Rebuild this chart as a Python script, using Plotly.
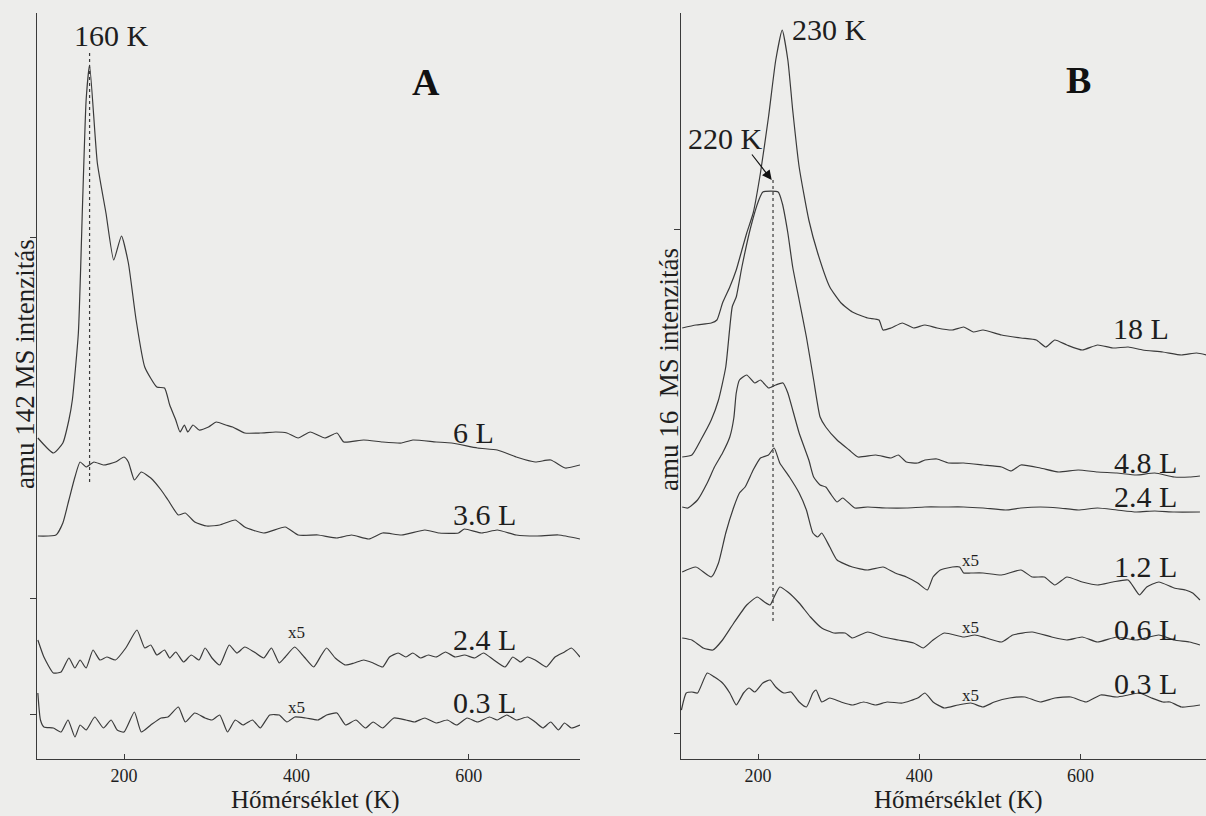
import plotly.graph_objects as go

# ---------------- Panel A (amu 142) ----------------
a6_T = [100, 118, 129, 136, 140, 147, 152, 156, 160, 169, 179, 188, 197, 205, 214, 224, 238, 247, 253, 260,
        265, 270, 274, 280, 287, 298, 307, 318, 326, 340, 358, 376, 389, 402, 416, 433, 447, 455, 478, 500,
        522, 535, 562, 580, 610, 633, 655, 677, 695, 712, 729]
a6_I = [321, 306, 316, 339, 359, 426, 559, 659, 694, 596, 546, 499, 523, 496, 439, 392, 372, 371, 354, 339,
        327, 334, 327, 334, 329, 332, 337, 334, 332, 326, 326, 327, 326, 321, 327, 321, 326, 317, 319, 317,
        316, 319, 317, 316, 311, 309, 302, 297, 299, 291, 294]

a36_T = [100, 121, 129, 136, 143, 149, 156, 165, 176, 190, 200, 205, 212, 220, 231, 243, 251, 263, 271, 282,
         296, 311, 329, 340, 362, 387, 402, 425, 447, 464, 484, 500, 522, 549, 566, 588, 595, 615, 633, 655,
         678, 704, 729]
a36_I = [223, 224, 236, 259, 282, 297, 292, 297, 294, 297, 302, 297, 279, 287, 281, 269, 259, 244, 246, 237,
         233, 234, 239, 232, 226, 232, 224, 224, 221, 224, 220, 226, 224, 229, 226, 226, 230, 226, 229, 224,
         223, 224, 220]

a24_T = [100, 107, 118, 127, 136, 143, 149, 156, 164, 172, 180, 190, 202, 215, 224, 231, 238, 247, 253, 260,
         269, 278, 287, 294, 302, 311, 322, 331, 340, 351, 362, 371, 380, 387, 398, 409, 420, 429, 435, 445,
         457, 467, 478, 489, 500, 508, 518, 527, 535, 544, 553, 562, 573, 584, 595, 607, 617, 629, 642, 651,
         660, 668, 677, 690, 700, 711, 719, 729]
a24_I = [119, 102, 86, 87, 101, 91, 99, 91, 109, 99, 102, 99, 111, 129, 111, 114, 104, 109, 101, 107,
         97, 104, 99, 111, 101, 94, 114, 106, 112, 107, 101, 111, 96, 102, 112, 102, 92, 104, 111, 101,
         94, 96, 99, 96, 92, 102, 106, 102, 106, 101, 104, 102, 107, 102, 104, 101, 106, 99, 92, 102,
         97, 102, 99, 92, 102, 107, 111, 102]

a03_T = [100, 103, 107, 118, 127, 135, 143, 149, 156, 166, 176, 185, 192, 200, 212, 220, 231, 243, 251, 263,
         271, 282, 294, 302, 311, 320, 329, 338, 349, 358, 369, 380, 389, 398, 411, 425, 435, 447, 457, 469,
         480, 489, 500, 513, 527, 537, 549, 562, 575, 586, 598, 610, 624, 633, 644, 655, 668, 677, 686, 695,
         704, 711, 719, 729]
a03_I = [66, 39, 32, 31, 27, 39, 22, 34, 29, 42, 31, 39, 29, 27, 47, 27, 34, 41, 42, 52,
         37, 46, 41, 39, 44, 27, 39, 34, 39, 31, 44, 44, 37, 42, 41, 39, 44, 46, 34, 39,
         31, 37, 31, 41, 39, 37, 41, 36, 39, 34, 41, 37, 42, 39, 44, 39, 42, 37, 31, 37,
         29, 36, 31, 34]

# ---------------- Panel B (amu 16) ----------------
b18_T = [106, 123, 142, 149, 156, 165, 173, 180, 186, 194, 203, 213, 222, 230, 237, 243, 251, 263, 274, 289,
         303, 317, 336, 350, 355, 365, 379, 393, 407, 422, 441, 455, 467, 479, 502, 526, 545, 557, 568, 583,
         602, 621, 640, 659, 677, 702, 725, 744, 756]
b18_I = [431, 434, 436, 439, 456, 472, 489, 509, 526, 546, 586, 642, 699, 729, 699, 649, 592, 539, 506, 472,
         456, 447, 441, 439, 429, 431, 436, 431, 434, 431, 429, 432, 427, 429, 424, 421, 419, 412, 419, 414,
         409, 414, 411, 412, 409, 407, 404, 406, 404]

b48_T = [106, 118, 129, 142, 151, 160, 168, 173, 180, 191, 201, 206, 225, 230, 237, 243, 251, 260, 269, 277,
         284, 298, 313, 324, 346, 365, 374, 384, 398, 407, 422, 436, 455, 479, 502, 514, 526, 550, 573, 597,
         621, 645, 669, 692, 716, 735, 748]
b48_I = [302, 304, 319, 339, 359, 392, 452, 462, 492, 532, 559, 567, 567, 556, 526, 492, 459, 422, 379, 342,
         332, 319, 309, 302, 304, 301, 304, 297, 296, 299, 300, 296, 296, 294, 292, 288, 294, 291, 287, 289,
         287, 286, 284, 286, 282, 282, 283]

b24_T = [106, 113, 125, 137, 146, 156, 165, 170, 173, 177, 186, 196, 203, 213, 222, 231, 237, 243, 251, 263,
         269, 277, 284, 291, 298, 305, 320, 336, 360, 384, 407, 431, 455, 479, 507, 526, 550, 573, 597, 621,
         645, 669, 692, 716, 748]
b24_I = [252, 251, 259, 276, 292, 306, 322, 341, 366, 379, 384, 376, 379, 371, 374, 376, 366, 349, 326, 299,
         282, 274, 272, 264, 257, 261, 251, 252, 251, 251, 252, 252, 252, 251, 249, 251, 252, 251, 249, 251,
         249, 247, 248, 247, 247]

b12_T = [106, 123, 142, 151, 160, 170, 177, 184, 194, 203, 213, 220, 227, 239, 251, 260, 268, 274, 279, 289,
         298, 317, 336, 355, 370, 384, 398, 410, 417, 426, 441, 450, 455, 464, 479, 502, 526, 540, 555, 568,
         583, 602, 621, 640, 659, 673, 682, 697, 716, 730, 739, 748]
b12_I = [187, 192, 182, 196, 226, 252, 266, 272, 289, 301, 304, 311, 296, 282, 266, 249, 226, 222, 226, 212,
         199, 192, 189, 192, 186, 182, 176, 169, 182, 189, 192, 192, 186, 186, 186, 184, 189, 182, 182, 174,
         182, 177, 174, 177, 179, 164, 172, 177, 171, 169, 166, 159]

b06_T = [106, 118, 132, 144, 156, 170, 186, 199, 208, 215, 220, 227, 237, 251, 265, 279, 294, 308, 317, 336,
         355, 374, 393, 405, 417, 431, 455, 469, 483, 502, 516, 540, 564, 583, 602, 621, 645, 669, 697, 716,
         735, 748]
b06_I = [121, 119, 111, 109, 119, 136, 154, 162, 157, 154, 162, 172, 167, 156, 142, 131, 126, 126, 121, 127,
         122, 119, 116, 111, 119, 126, 122, 124, 121, 117, 124, 127, 122, 119, 122, 117, 122, 119, 124, 119,
         117, 114]

b03_T = [105, 111, 118, 125, 137, 146, 156, 165, 173, 182, 189, 196, 206, 215, 222, 232, 241, 251, 260, 268,
         272, 279, 289, 303, 317, 331, 346, 360, 379, 398, 407, 417, 431, 448, 464, 479, 493, 512, 531, 550,
         568, 588, 607, 625, 645, 659, 673, 688, 702, 711, 725, 748]
b03_I = [49, 66, 67, 66, 86, 82, 76, 66, 54, 66, 71, 67, 76, 79, 72, 66, 67, 57, 52, 66,
         69, 57, 61, 57, 54, 57, 54, 57, 56, 61, 66, 57, 51, 54, 56, 52, 57, 61, 62, 57,
         61, 62, 57, 64, 62, 64, 66, 61, 57, 57, 52, 54]

# curve labels (text, position K, intensity)
a_labels = ["6 L", "3.6 L", "2.4 L", "0.3 L"]
a_label_T = [605, 618, 618, 618]
a_label_I = [327, 245, 120, 57]
a_x5_T = [400, 400]
a_x5_I = [127, 52]

b_labels = ["18 L", "4.8 L", "2.4 L", "1.2 L", "0.6 L", "0.3 L"]
b_label_T = [675, 680, 680, 680, 680, 680]
b_label_I = [431, 297, 263, 193, 130, 76]
b_x5_T = [463, 463, 463]
b_x5_I = [199, 132, 64]

x_tickvals = [200, 400, 600]
a_ytick = [522, 161, 45]
b_ytick = [530, 26]

LINE = "#3a3a3a"
TXT = "#1e1e1e"
BG = "#ededeb"
SERIF = "Liberation Serif"

fig = go.Figure()

for T, I in [(a6_T, a6_I), (a36_T, a36_I), (a24_T, a24_I), (a03_T, a03_I)]:
    fig.add_trace(go.Scatter(x=T, y=I, mode="lines", xaxis="x", yaxis="y",
                             line=dict(color=LINE, width=1.2, shape="spline", smoothing=0.5),
                             showlegend=False, hoverinfo="skip"))
for T, I in [(b18_T, b18_I), (b48_T, b48_I), (b24_T, b24_I), (b12_T, b12_I), (b06_T, b06_I), (b03_T, b03_I)]:
    fig.add_trace(go.Scatter(x=T, y=I, mode="lines", xaxis="x2", yaxis="y2",
                             line=dict(color=LINE, width=1.2, shape="spline", smoothing=0.5),
                             showlegend=False, hoverinfo="skip"))

# dotted guide lines
fig.add_trace(go.Scatter(x=[160, 160], y=[706, 277], mode="lines", xaxis="x", yaxis="y",
                         line=dict(color=LINE, width=1.2, dash="dot"), showlegend=False, hoverinfo="skip"))
fig.add_trace(go.Scatter(x=[218.6, 218.6], y=[579, 136], mode="lines", xaxis="x2", yaxis="y2",
                         line=dict(color=LINE, width=1.2, dash="dot"), showlegend=False, hoverinfo="skip"))

ann = []
for t, x, y in zip(a_labels, a_label_T, a_label_I):
    ann.append(dict(text=t, x=x, y=y, xref="x", yref="y", showarrow=False,
                    font=dict(family=SERIF, size=30, color=TXT)))
for x, y in zip(a_x5_T, a_x5_I):
    ann.append(dict(text="x5", x=x, y=y, xref="x", yref="y", showarrow=False,
                    font=dict(family=SERIF, size=17, color=TXT)))
for t, x, y in zip(b_labels, b_label_T, b_label_I):
    ann.append(dict(text=t, x=x, y=y, xref="x2", yref="y2", showarrow=False,
                    font=dict(family=SERIF, size=30, color=TXT)))
for x, y in zip(b_x5_T, b_x5_I):
    ann.append(dict(text="x5", x=x, y=y, xref="x2", yref="y2", showarrow=False,
                    font=dict(family=SERIF, size=17, color=TXT)))

ann += [
    dict(text="160 K", x=186, y=724, xref="x", yref="y", showarrow=False,
         font=dict(family=SERIF, size=30, color=TXT)),
    dict(text="<b>A</b>", x=550, y=677, xref="x", yref="y", showarrow=False,
         font=dict(family=SERIF, size=38, color="#111")),
    dict(text="230 K", x=289, y=730, xref="x2", yref="y2", showarrow=False,
         font=dict(family=SERIF, size=30, color=TXT)),
    dict(text="<b>B</b>", x=597, y=679, xref="x2", yref="y2", showarrow=False,
         font=dict(family=SERIF, size=38, color="#111")),
    dict(text="220 K", x=160, y=621, xref="x2", yref="y2", showarrow=False,
         font=dict(family=SERIF, size=30, color=TXT)),
    dict(text="", x=217, y=579, xref="x2", yref="y2", ax=191, ay=606, axref="x2", ayref="y2",
         showarrow=True, arrowhead=2, arrowsize=1.6, arrowwidth=1.2, arrowcolor="#111"),
    dict(text="amu 142 MS intenzitás", x=25 / 1206, y=(816 - 364) / 816, xref="paper", yref="paper",
         xanchor="center", yanchor="middle",
         textangle=-90, showarrow=False, font=dict(family=SERIF, size=27, color=TXT)),
    dict(text="amu 16  MS intenzitás", x=669 / 1206, y=(816 - 370) / 816, xref="paper", yref="paper",
         xanchor="center", yanchor="middle",
         textangle=-90, showarrow=False, font=dict(family=SERIF, size=27, color=TXT)),
    dict(text="Hőmérséklet (K)", x=316 / 1206, y=0.0, xref="paper", yref="paper",
         xanchor="center", yanchor="bottom", showarrow=False, font=dict(family=SERIF, size=25, color=TXT)),
    dict(text="Hőmérséklet (K)", x=958 / 1206, y=0.0, xref="paper", yref="paper",
         xanchor="center", yanchor="bottom", showarrow=False, font=dict(family=SERIF, size=25, color=TXT)),
]

ydom = [(816 - 759) / 816, (816 - 13) / 816]
xcommon = dict(showline=True, linecolor=LINE, linewidth=1.2, showgrid=False, zeroline=False,
               tickvals=x_tickvals, ticks="inside", ticklen=5, tickcolor=LINE,
               tickfont=dict(family=SERIF, size=18, color=TXT))
ycommon = dict(showline=True, linecolor=LINE, linewidth=1.2, showgrid=False, zeroline=False,
               range=[0, 746], ticks="outside", ticklen=6, tickcolor=LINE, showticklabels=False)

fig.update_layout(
    width=1206, height=816,
    margin=dict(l=0, r=0, t=0, b=0),
    paper_bgcolor=BG, plot_bgcolor=BG,
    xaxis=dict(domain=[37 / 1206, 580 / 1206], range=[99, 729], anchor="y", **xcommon),
    yaxis=dict(domain=ydom, anchor="x", tickvals=a_ytick, **ycommon),
    xaxis2=dict(domain=[681 / 1206, 1.0], range=[104.5, 755.5], anchor="y2", **xcommon),
    yaxis2=dict(domain=ydom, anchor="x2", tickvals=b_ytick, **ycommon),
    annotations=ann,
)

fig.write_html("out.html", config={"displayModeBar": False},
               post_script="document.body.style.margin='0';document.body.style.padding='0';")
